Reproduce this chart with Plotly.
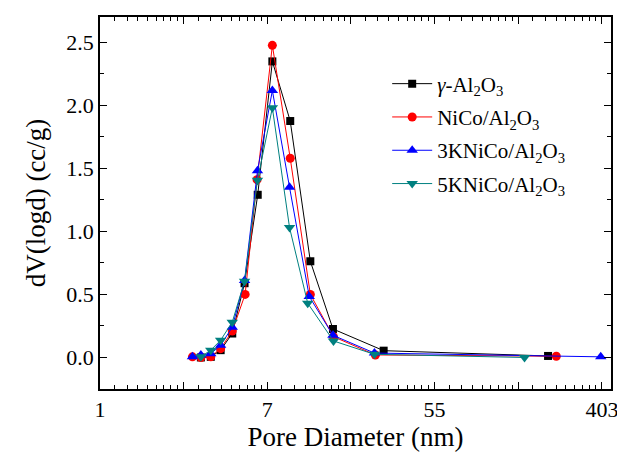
import math
import plotly.graph_objects as go

# ---- data ----
x_gamma = [3.34, 3.76, 4.23, 4.86, 5.63, 6.59, 7.85, 9.72, 12.36, 16.2, 29.7, 212]
y_gamma = [0.0, 0.005, 0.058, 0.19, 0.589, 1.29, 2.348, 1.875, 0.763, 0.226, 0.054, 0.012]

x_nico = [3.02, 3.34, 3.76, 4.23, 4.86, 5.67, 6.54, 7.85, 9.72, 12.36, 16.3, 26.9, 234]
y_nico = [0.005, 0.0, 0.005, 0.07, 0.21, 0.50, 1.41, 2.475, 1.58, 0.50, 0.165, 0.02, 0.01]

x_3k = [3.02, 3.34, 3.76, 4.23, 4.86, 5.63, 6.57, 7.85, 9.64, 12.2, 16.2, 26.6, 398]
y_3k = [0.005, 0.02, 0.03, 0.097, 0.24, 0.61, 1.48, 2.117, 1.35, 0.484, 0.176, 0.035, 0.005]

x_5k = [3.34, 3.76, 4.23, 4.86, 5.63, 6.57, 7.85, 9.64, 11.98, 16.3, 26.6, 160]
y_5k = [0.005, 0.058, 0.137, 0.28, 0.605, 1.406, 1.98, 1.03, 0.43, 0.131, 0.025, 0.0]

names = ["<i>γ</i>-Al<sub>2</sub>O<sub>3</sub>", "NiCo/Al<sub>2</sub>O<sub>3</sub>",
         "3KNiCo/Al<sub>2</sub>O<sub>3</sub>", "5KNiCo/Al<sub>2</sub>O<sub>3</sub>"]

x_major = [math.e ** n for n in range(0, 7)]
x_major_text = ["1", "", "7", "", "55", "", "403"]
x_minor = [math.e ** n * (1 + k * (math.e - 1) / 9) for n in range(0, 7) for k in range(1, 9)]
y_major = [0, 0.5, 1.0, 1.5, 2.0, 2.5]
y_major_text = ["0.0", "0.5", "1.0", "1.5", "2.0", "2.5"]

FONT = "Liberation Serif, Times New Roman, serif"

series = [
    (x_gamma, y_gamma, "black", "square", 8),
    (x_nico, y_nico, "red", "circle", 9),
    (x_3k, y_3k, "blue", "triangle-up", 10),
    (x_5k, y_5k, "#008080", "triangle-down", 10),
]

fig = go.Figure()
for i, ((xs, ys, col, sym, sz), nm) in enumerate(zip(series, names)):
    fig.add_trace(go.Scatter(x=xs, y=ys, mode="lines+markers", name=nm, legendgroup=f"g{i}",
                             line=dict(color=col, width=1),
                             marker=dict(color=col, symbol=sym, size=sz, line=dict(width=0))))

axis_common = dict(showline=True, linecolor="black", linewidth=1.5, mirror="ticks",
                   ticks="inside", tickcolor="black", showgrid=False, zeroline=False,
                   tickfont=dict(family=FONT, size=22, color="black"))

fig.update_xaxes(type="log", range=[0, math.log10(math.e) * 6.109],
                 tickmode="array", tickvals=x_major, ticktext=x_major_text, ticklen=7,
                 minor=dict(tickmode="array", tickvals=x_minor, ticks="inside", ticklen=4,
                            tickcolor="black"),
                 title=dict(text="Pore Diameter (nm)", font=dict(family=FONT, size=27, color="black"),
                            standoff=6),
                 **axis_common)
fig.update_yaxes(range=[-0.25, 2.70], tickmode="array", tickvals=y_major,
                 ticktext=y_major_text, ticklen=7,
                 minor=dict(dtick=0.25, ticks="inside", ticklen=4, tickcolor="black"),
                 title=dict(text="dV(logd) (cc/g)", font=dict(family=FONT, size=27, color="black"),
                            standoff=13),
                 **axis_common)

fig.update_layout(
    width=617, height=449,
    margin=dict(l=92, r=10, t=7, b=68),
    paper_bgcolor="white", plot_bgcolor="white",
    font=dict(family=FONT, color="black"),
    legend=dict(x=0.562, y=0.875, xanchor="left", yanchor="top",
                font=dict(family=FONT, size=21, color="black"),
                bgcolor="rgba(0,0,0,0)", tracegroupgap=3, itemwidth=40),
)

fig.write_html("out.html")
